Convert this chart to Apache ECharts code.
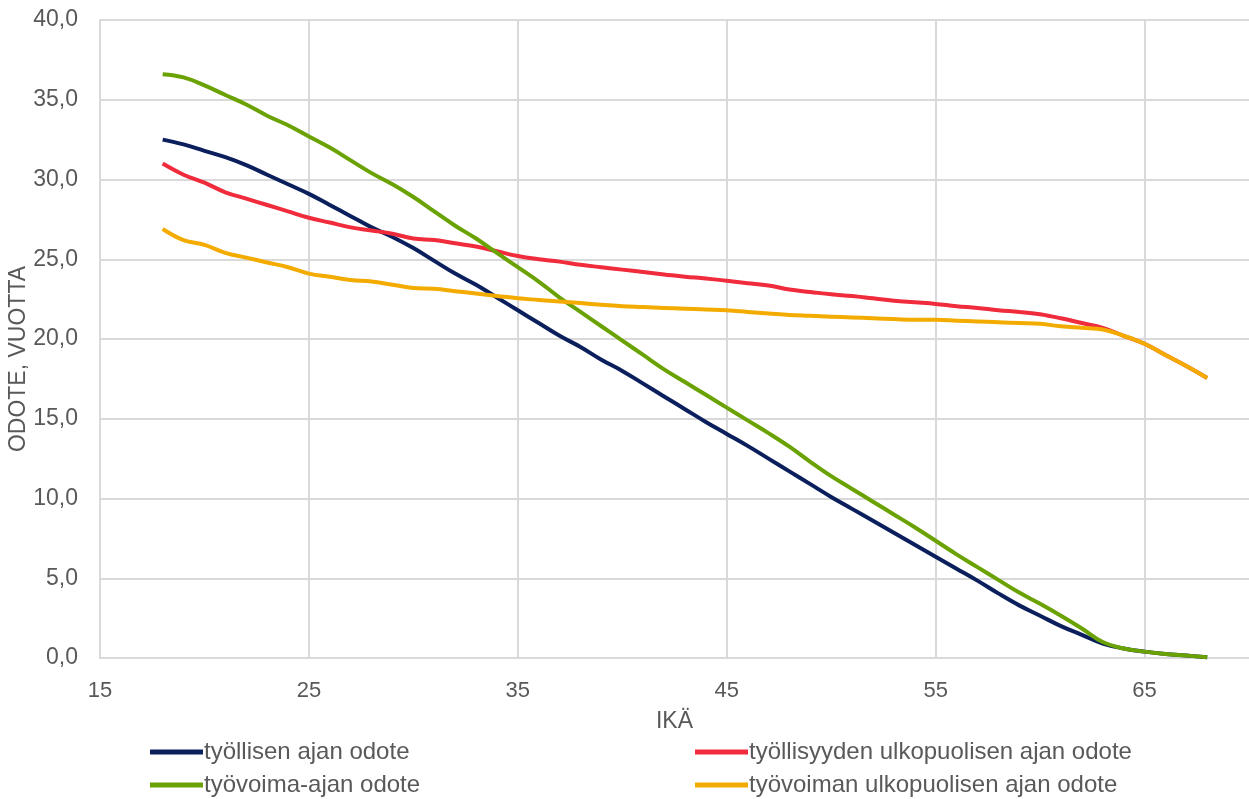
<!DOCTYPE html>
<html>
<head>
<meta charset="utf-8">
<script src="https://cdn.jsdelivr.net/npm/echarts@6/dist/echarts.min.js"></script>
<style>
html,body{margin:0;padding:0;background:#fff;}
#c{width:1249px;height:799px;}
</style>
</head>
<body>
<div id="c"></div>
<script>
const ages = [18,19,20,21,22,23,24,25,26,27,28,29,30,31,32,33,34,35,36,37,38,39,40,41,42,43,44,45,46,47,48,49,50,51,52,53,54,55,56,57,58,59,60,61,62,63,64,65,66,67,68];
const seriesNames = ['työllisen ajan odote','työllisyyden ulkopuolisen ajan odote','työvoima-ajan odote','työvoiman ulkopuolisen ajan odote'];
const tyollisen = [32.5,32.2,31.8,31.4,30.9,30.3,29.7,29.1,28.4,27.7,27.0,26.4,25.7,24.9,24.1,23.4,22.6,21.8,21.0,20.2,19.5,18.7,18.0,17.2,16.4,15.6,14.8,14.05,13.3,12.5,11.7,10.9,10.1,9.35,8.6,7.85,7.1,6.35,5.6,4.85,4.05,3.3,2.65,2.0,1.45,0.9,0.6,0.4,0.25,0.15,0.05];
const ulkopuolisenTyo = [31.0,30.3,29.8,29.2,28.8,28.4,28.0,27.6,27.3,27.0,26.8,26.6,26.3,26.2,26.0,25.8,25.5,25.2,25.0,24.85,24.65,24.5,24.35,24.2,24.05,23.9,23.8,23.65,23.5,23.35,23.1,22.95,22.8,22.7,22.55,22.4,22.3,22.2,22.05,21.95,21.8,21.7,21.55,21.3,21.0,20.7,20.2,19.7,19.0,18.3,17.55];
const tyovoima = [36.6,36.4,35.9,35.3,34.7,34.0,33.4,32.7,32.0,31.2,30.4,29.7,28.9,28.0,27.1,26.3,25.4,24.5,23.6,22.6,21.7,20.8,19.9,19.0,18.1,17.3,16.5,15.7,14.9,14.1,13.25,12.3,11.4,10.6,9.8,9.0,8.2,7.35,6.5,5.7,4.9,4.1,3.4,2.65,1.85,1.0,0.6,0.4,0.25,0.15,0.05];
const ulkopuolisenVoima = [26.9,26.2,25.9,25.4,25.1,24.8,24.5,24.1,23.9,23.7,23.6,23.4,23.2,23.15,23.0,22.85,22.7,22.55,22.45,22.35,22.25,22.15,22.05,22.0,21.95,21.9,21.85,21.8,21.7,21.6,21.5,21.45,21.4,21.35,21.3,21.25,21.2,21.2,21.15,21.1,21.05,21.0,20.95,20.8,20.7,20.6,20.2,19.7,19.0,18.3,17.55];
const colors = ['#0a1f5c','#ef2b3c','#6aa203','#f4ab00'];
const xTicks = [15,25,35,45,55,65];

const allData = [tyollisen, ulkopuolisenTyo, tyovoima, ulkopuolisenVoima];
const chart = echarts.init(document.getElementById('c'), null, {renderer:'canvas'});
const font = 'Liberation Sans, Arial, sans-serif';
const zs = [2,3,4,5];
const series = seriesNames.map((n,i)=>({
  name:n, type:'line', smooth:0.4, symbol:'none',
  data: ages.map((a,j)=>[a, allData[i][j]]),
  lineStyle:{color:colors[i], width:4},
  itemStyle:{color:colors[i]},
  z: zs[i]
}));

const legendText = {fontFamily:font, fontSize:24, color:'#595959', padding:[0,0,0,-4]};
chart.setOption({
  animation:false,
  backgroundColor:'#fff',
  grid:{left:100, right:0, top:20, bottom:141, containLabel:false, outerBoundsMode:'none'},
  xAxis:{
    type:'value', min:15, max:70, interval:10,
    name:'IKÄ', nameLocation:'middle', nameGap:52, nameMoveOverlap:false,
    nameTextStyle:{fontFamily:font, fontSize:23, color:'#595959'},
    axisLine:{show:true, lineStyle:{color:'#d9d9d9', width:2}},
    axisTick:{show:false, customValues:xTicks},
    axisLabel:{customValues:xTicks, fontFamily:font, fontSize:22, color:'#595959', margin:22,
      formatter:v=>String(v)},
    splitLine:{show:true, lineStyle:{color:'#d9d9d9', width:2}}
  },
  yAxis:{
    type:'value', min:0, max:40, interval:5,
    name:'ODOTE, VUOTTA', nameLocation:'middle', nameGap:70, nameRotate:90, nameMoveOverlap:false,
    nameTextStyle:{fontFamily:font, fontSize:23, color:'#595959', padding:[0,40,0,0]},
    axisLine:{show:true, lineStyle:{color:'#d9d9d9', width:2}},
    axisTick:{show:false},
    axisLabel:{fontFamily:font, fontSize:23, color:'#595959', margin:22,
      formatter:v=>v.toFixed(1).replace('.',',')},
    splitLine:{show:true, lineStyle:{color:'#d9d9d9', width:2}}
  },
  legend:[
    {orient:'vertical', left:145, top:735, height:90, itemWidth:53, itemHeight:5, itemGap:9, icon:'rect',
     data:[seriesNames[0], seriesNames[2]], textStyle:legendText},
    {orient:'vertical', left:690, top:735, height:90, itemWidth:53, itemHeight:5, itemGap:9, icon:'rect',
     data:[seriesNames[1], seriesNames[3]], textStyle:legendText}
  ],
  series: series
});
</script>
</body>
</html>
